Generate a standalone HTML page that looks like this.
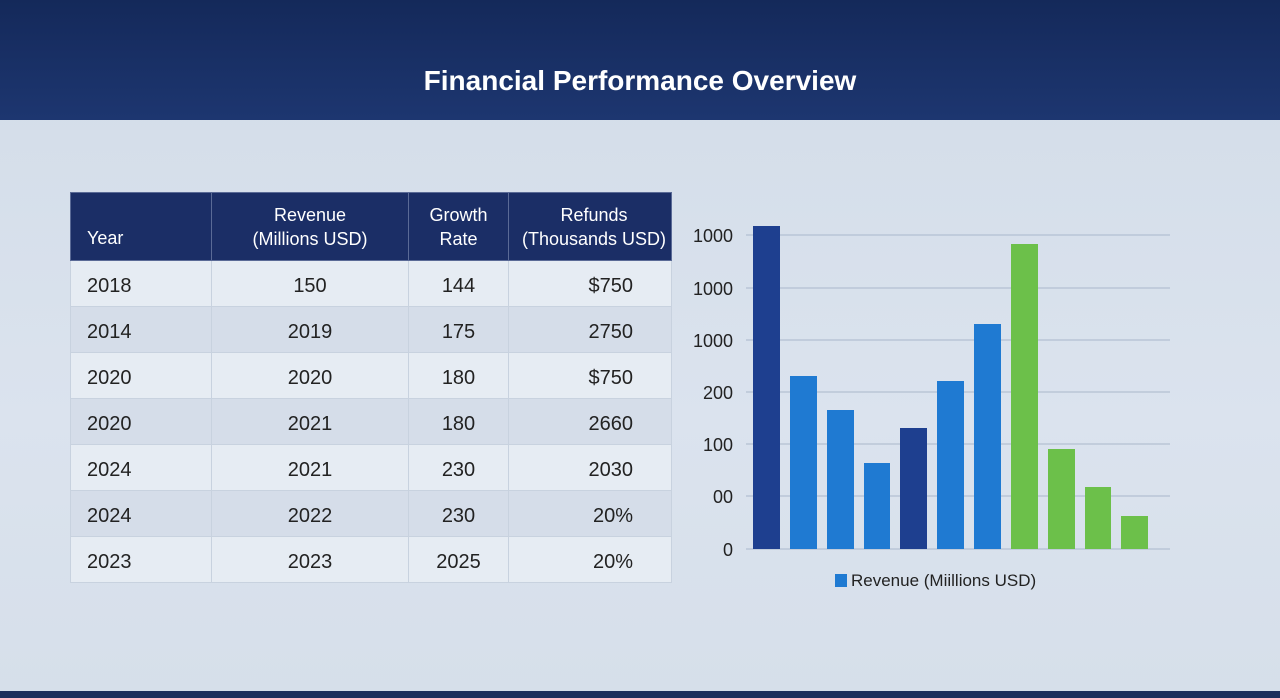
<!DOCTYPE html>
<html><head><style>
body{margin:0;width:1280px;height:698px;overflow:hidden;background:linear-gradient(180deg,#d2dce8 0%,#dbe3ee 60%,#d6dfea 100%);font-family:"Liberation Sans",sans-serif;position:relative}
.hdr{position:absolute;left:0;top:0;width:1280px;height:120px;background:linear-gradient(180deg,#14295a,#1d3670);color:#fff;text-align:center;font-size:28px;font-weight:bold;line-height:162px}
.bot{position:absolute;left:0;top:691px;width:1280px;height:7px;background:#1d2f5c}
table{position:absolute;left:70px;top:192px;border-collapse:collapse;table-layout:fixed;width:601px;font-size:20px;color:#222}
td,th{border:1px solid #c8d2df;padding:0;overflow:hidden;white-space:nowrap}
th{background:#1b2e66;color:#fff;font-weight:normal;font-size:18px;height:57px;line-height:24px;border-color:#5a6a96}
tr.r td{height:40px;padding-top:5px}
tr.r:nth-child(even) td{background:#e6ecf3}
tr.r:nth-child(odd) td{background:#d5dde9}
.c1{text-align:left;padding-left:16px}
.c2{text-align:center}
.c3{text-align:center}
.c4{text-align:right;padding-right:38px}
</style></head><body>
<div class="hdr">Financial Performance Overview</div>
<table>
<colgroup><col style="width:141px"><col style="width:197px"><col style="width:100px"><col style="width:163px"></colgroup>
<tr><th class="c1" style="vertical-align:bottom;padding-bottom:10px">Year</th><th class="c2">Revenue<br>(Millions USD)</th><th class="c3">Growth<br>Rate</th><th style="text-align:center;padding-left:8px">Refunds<br>(Thousands USD)</th></tr>
<tr class="r"><td class="c1">2018</td><td class="c2">150</td><td class="c3">144</td><td class="c4">$750</td></tr>
<tr class="r"><td class="c1">2014</td><td class="c2">2019</td><td class="c3">175</td><td class="c4">2750</td></tr>
<tr class="r"><td class="c1">2020</td><td class="c2">2020</td><td class="c3">180</td><td class="c4">$750</td></tr>
<tr class="r"><td class="c1">2020</td><td class="c2">2021</td><td class="c3">180</td><td class="c4">2660</td></tr>
<tr class="r"><td class="c1">2024</td><td class="c2">2021</td><td class="c3">230</td><td class="c4">2030</td></tr>
<tr class="r"><td class="c1">2024</td><td class="c2">2022</td><td class="c3">230</td><td class="c4">20%</td></tr>
<tr class="r"><td class="c1">2023</td><td class="c2">2023</td><td class="c3">2025</td><td class="c4">20%</td></tr>
</table>
<svg width="1280" height="698" style="position:absolute;left:0;top:0" font-family="Liberation Sans, sans-serif">
<g stroke="#b3c0d2" stroke-width="1.3">
<line x1="746" x2="1170" y1="235" y2="235"/><line x1="746" x2="1170" y1="288" y2="288"/>
<line x1="746" x2="1170" y1="340" y2="340"/><line x1="746" x2="1170" y1="392" y2="392"/>
<line x1="746" x2="1170" y1="444" y2="444"/><line x1="746" x2="1170" y1="496" y2="496"/>
<line x1="746" x2="1170" y1="549" y2="549"/></g>
<g font-size="18" fill="#222" text-anchor="end">
<text x="733" y="242">1000</text><text x="733" y="295">1000</text><text x="733" y="347">1000</text>
<text x="733" y="399">200</text><text x="733" y="451">100</text><text x="733" y="503">00</text><text x="733" y="556">0</text></g>
<rect x="753" y="226" width="27" height="323" fill="#1e3f8f"/>
<rect x="790" y="376" width="27" height="173" fill="#1f7ad2"/>
<rect x="827" y="410" width="27" height="139" fill="#1f7ad2"/>
<rect x="864" y="463" width="26" height="86" fill="#1f7ad2"/>
<rect x="900" y="428" width="27" height="121" fill="#1e3f8f"/>
<rect x="937" y="381" width="27" height="168" fill="#1f7ad2"/>
<rect x="974" y="324" width="27" height="225" fill="#1f7ad2"/>
<rect x="1011" y="244" width="27" height="305" fill="#6cc04a"/>
<rect x="1048" y="449" width="27" height="100" fill="#6cc04a"/>
<rect x="1085" y="487" width="26" height="62" fill="#6cc04a"/>
<rect x="1121" y="516" width="27" height="33" fill="#6cc04a"/>
<rect x="835" y="574" width="12" height="13" fill="#1f7ad2"/>
<text x="851" y="586" font-size="17" fill="#222">Revenue (Miillions USD)</text>
</svg>
<div class="bot"></div>
</body></html>
